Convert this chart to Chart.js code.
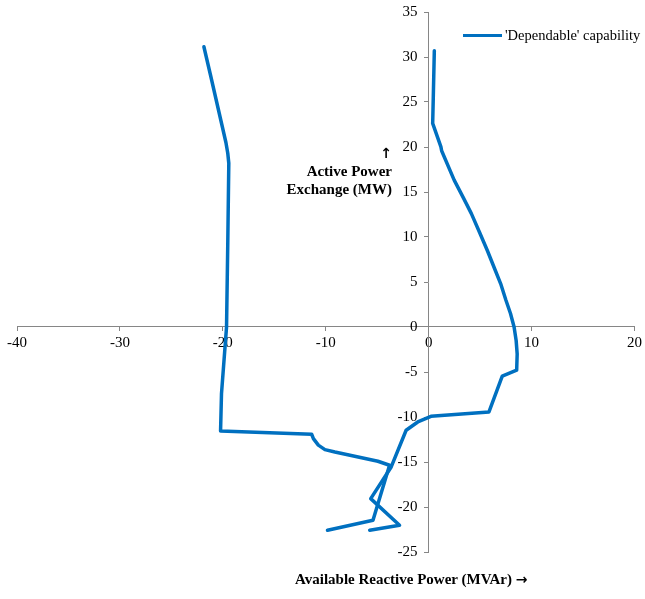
<!DOCTYPE html>
<html>
<head>
<meta charset="utf-8">
<script src="https://cdn.jsdelivr.net/npm/chart.js@4.4.1/dist/chart.umd.min.js"></script>
<style>
  html, body { margin: 0; padding: 0; background: #fff; }
  #wrap { position: relative; width: 645px; height: 599px; font-family: 'Liberation Serif', 'Times New Roman', serif; color: #000; }
  #chart { position: absolute; left: 0; top: 0; }
  .title { position: absolute; font-weight: bold; font-size: 15px; line-height: 18px; white-space: nowrap; }
  .arrow { font-family: 'DejaVu Sans', sans-serif; font-weight: bold; font-size: 14px; }
  #yTitle { right: 253px; top: 144px; text-align: right; }
  #xTitle { left: 295px; top: 570px; }
  #legend { position: absolute; left: 463px; top: 26px; font-size: 14.5px; line-height: 18px; white-space: nowrap; }
  #legend .swatch { display: inline-block; width: 39px; height: 3.5px; background: #0070C0; vertical-align: middle; margin-right: 3px; position: relative; top: -1px; }
</style>
</head>
<body>
<div id="wrap">
  <canvas id="chart" width="645" height="599"></canvas>
  <div id="yTitle" class="title"><span class="arrow">&#8593;</span><br>Active Power<br>Exchange (MW)</div>
  <div id="xTitle" class="title">Available Reactive Power (MVAr) <span class="arrow">&#8594;</span></div>
  <div id="legend"><span class="swatch"></span><span id="legendText"></span></div>
</div>
<script>
// Series label
const seriesName = "'Dependable' capability";

// Left branch of the capability curve (MVAr, MW)
const leftBranchX = [-21.84, -21.2, -20.6, -20.1, -19.7, -19.52, -19.42, -19.52, -19.64, -20.13, -20.22,
                     -11.37, -11.2, -10.72, -10.08, -9.11, -4.93, -3.80, -5.41, -9.83];
const leftBranchY = [31.14, 28.0, 25.0, 22.5, 20.5, 19.3, 18.2, 9.3, 0.0, -7.4, -11.55,
                     -11.92, -12.4, -13.13, -13.62, -13.89, -14.92, -15.36, -21.48, -22.59];

// Right branch of the capability curve (MVAr, MW)
const rightBranchX = [0.55, 0.45, 0.39, 1.19, 1.26, 2.48, 3.4, 4.15, 4.95, 5.7, 6.4, 7.0, 7.5, 7.95,
                      8.3, 8.5, 8.6, 8.55, 7.15, 5.86, 0.22, -1.06, -2.19, -3.64, -5.63, -2.83, -5.73];
const rightBranchY = [30.7, 25.6, 22.62, 20.02, 19.58, 16.32, 14.29, 12.6, 10.5, 8.5, 6.5, 4.8, 3.0, 1.5,
                      0.0, -1.5, -3.0, -4.8, -5.47, -9.44, -9.92, -10.55, -11.47, -15.55, -19.07, -22.03, -22.59];

// Axis ranges
const xMin = -40, xMax = 20, xStep = 10;
const yMin = -25, yMax = 35, yStep = 5;

const lineColor = '#0070C0';
const axisColor = '#868686';

function toPoints(xs, ys) {
    return xs.map((x, i) => ({ x: x, y: ys[i] }));
}

document.getElementById('legendText').textContent = seriesName;

const tickFont = { family: "'Liberation Serif', 'Times New Roman', serif", size: 15 };

const lineStyle = {
    showLine: true,
    borderColor: lineColor,
    backgroundColor: lineColor,
    borderWidth: 3.5,
    pointRadius: 0,
    pointHoverRadius: 0,
    tension: 0,
    borderCapStyle: 'round',
    borderJoinStyle: 'round'
};

new Chart(document.getElementById('chart'), {
    type: 'scatter',
    data: {
        datasets: [
            Object.assign({ label: seriesName, data: toPoints(leftBranchX, leftBranchY) }, lineStyle),
            Object.assign({ label: seriesName, data: toPoints(rightBranchX, rightBranchY) }, lineStyle)
        ]
    },
    options: {
        responsive: false,
        animation: false,
        layout: { padding: { left: 17, right: 7, top: 12, bottom: 47 } },
        plugins: {
            legend: { display: false },
            tooltip: { enabled: false }
        },
        scales: {
            x: {
                type: 'linear',
                position: { y: 0 },
                min: xMin,
                max: xMax,
                ticks: { stepSize: xStep, color: '#000', font: tickFont, padding: 3, maxRotation: 0 },
                grid: { drawOnChartArea: false, drawTicks: true, tickLength: 4, color: axisColor },
                border: { color: axisColor, width: 1 }
            },
            y: {
                type: 'linear',
                position: { x: 0 },
                min: yMin,
                max: yMax,
                ticks: {
                    stepSize: yStep,
                    color: '#000',
                    font: tickFont,
                    // centred axis ignores padding, so push labels off the line
                    callback: value => value + '   '
                },
                grid: { drawOnChartArea: false, drawTicks: true, tickLength: 4, color: axisColor },
                border: { color: axisColor, width: 1 }
            }
        }
    }
});
</script>
</body>
</html>
